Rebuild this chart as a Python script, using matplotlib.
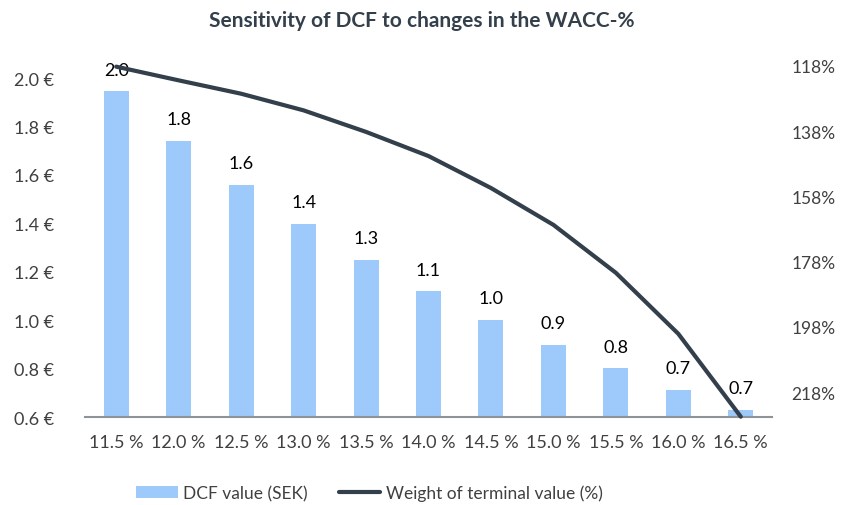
import matplotlib
matplotlib.use("Agg")
import matplotlib.pyplot as plt

plt.rcParams['font.family'] = ['Lato', 'DejaVu Sans']

# data
wacc = ['11.5 %', '12.0 %', '12.5 %', '13.0 %', '13.5 %', '14.0 %',
        '14.5 %', '15.0 %', '15.5 %', '16.0 %', '16.5 %']
dcf_value = [1.946, 1.741, 1.558, 1.397, 1.250, 1.119, 1.002, 0.897, 0.801, 0.712, 0.630]
dcf_labels = ['2.0', '1.8', '1.6', '1.4', '1.3', '1.1', '1.0', '0.9', '0.8', '0.7', '0.7']
tv_weight = [118.2, 122.4, 126.5, 131.6, 138.2, 145.6, 155.4, 166.7, 181.4, 200.1, 225.5]
right_ticks = [118, 138, 158, 178, 198, 218]
left_ticks = [0.6, 0.8, 1.0, 1.2, 1.4, 1.6, 1.8, 2.0]

bar_col = '#9DC9FB'
line_col = '#333F4B'
txt_col = '#404040'

fig = plt.figure(figsize=(8.43, 5.06), dpi=100)
ax = fig.add_axes([0.1008, 0.1739, 0.815, 0.6937])

x = list(range(len(wacc)))
bars = ax.bar(x, dcf_value, width=0.4, color=bar_col, zorder=2, label='DCF value (SEK)')
ax.set_ylim(0.6, 2.05)
ax.set_xlim(-0.5, len(wacc) - 0.5)
ax.set_yticks(left_ticks)
ax.set_yticklabels([f'{v:.1f} €' for v in left_ticks])
ax.set_xticks(x)
ax.set_xticklabels(wacc)
ax.tick_params(axis='both', length=0, labelsize=13, colors=txt_col)
ax.tick_params(axis='y', pad=22)
ax.tick_params(axis='x', pad=12)
for s in ['top', 'right', 'left']:
    ax.spines[s].set_visible(False)
ax.spines['bottom'].set_color('#8C9399')
ax.spines['bottom'].set_linewidth(1.5)

for xi, v, lab in zip(x, dcf_value, dcf_labels):
    ax.annotate(lab, (xi, v), xytext=(0, 12), textcoords='offset points',
                ha='center', va='baseline', fontsize=13, color='black')

ax2 = ax.twinx()
ln, = ax2.plot(x, tv_weight, color=line_col, lw=3, solid_capstyle='round',
               label='Weight of terminal value (%)', clip_on=False)
ax2.set_ylim(225.6, 118)
ax2.set_yticks(right_ticks)
ax2.set_yticklabels([f'{v}%' for v in right_ticks])
ax2.tick_params(axis='y', length=0, labelsize=12.5, colors=txt_col, pad=14)
for s in ['top', 'right', 'left', 'bottom']:
    ax2.spines[s].set_visible(False)

fig.suptitle('Sensitivity of DCF to changes in the WACC-%', x=0.5, y=0.978,
             fontsize=15, fontweight='bold', color='#333F4B')

fig.legend([bars, ln], ['DCF value (SEK)', 'Weight of terminal value (%)'],
           loc='center', bbox_to_anchor=(0.438, 0.024), ncol=2, frameon=False,
           fontsize=12.5, handlelength=2.4, handletextpad=0.3, columnspacing=1.8,
           labelcolor=txt_col)

fig.savefig('out.png', dpi=100)
